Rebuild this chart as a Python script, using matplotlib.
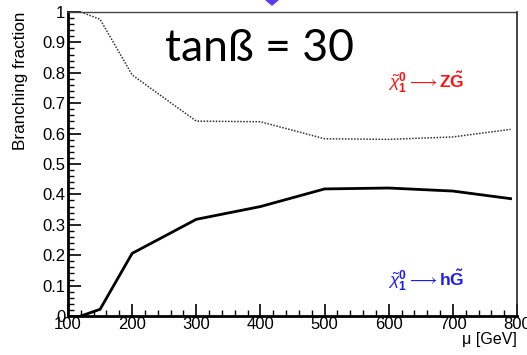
import matplotlib.pyplot as plt
from matplotlib.patches import Polygon
from matplotlib.ticker import MultipleLocator

mu_h = [120, 150, 200, 300, 400, 500, 600, 700, 790]
br_h = [0.0, 0.022, 0.206, 0.318, 0.360, 0.418, 0.421, 0.411, 0.386]

mu_z = [120, 150, 200, 300, 400, 500, 600, 700, 790]
br_z = [1.0, 0.976, 0.793, 0.641, 0.639, 0.583, 0.581, 0.589, 0.614]

plt.rcParams["font.family"] = ["Liberation Sans", "DejaVu Sans"]
plt.rcParams["mathtext.fontset"] = "custom"
plt.rcParams["mathtext.rm"] = "Liberation Sans"
plt.rcParams["mathtext.it"] = "Liberation Sans:italic"
plt.rcParams["mathtext.bf"] = "Liberation Sans:bold"

fig = plt.figure(figsize=(5.27, 3.55), dpi=100)
ax = fig.add_axes([68 / 527, 1 - 316 / 355, 449 / 527, 304 / 355])

ax.plot(mu_z, br_z, color="#333333", linestyle=(0, (1, 1)), linewidth=1.1)
ax.plot(mu_h, br_h, color="black", linewidth=2.0, solid_joinstyle="miter")

ax.set_xlim(100, 800)
ax.set_ylim(0, 1)
ax.xaxis.set_major_locator(MultipleLocator(100))
ax.xaxis.set_minor_locator(MultipleLocator(20))
ax.yaxis.set_major_locator(MultipleLocator(0.1))
ax.yaxis.set_minor_locator(MultipleLocator(0.02))
ax.set_yticks([0, 0.1, 0.2, 0.3, 0.4, 0.5, 0.6, 0.7, 0.8, 0.9, 1.0],
              ["0", "0.1", "0.2", "0.3", "0.4", "0.5", "0.6", "0.7", "0.8", "0.9", "1"])
ax.tick_params(axis="both", which="major", direction="in", length=9, width=1.2,
               labelsize=12, pad=2)
ax.tick_params(axis="both", which="minor", direction="in", length=4.5, width=1.0)
ax.tick_params(axis="x", pad=1)

ax.spines["left"].set_linewidth(2.0)
ax.spines["bottom"].set_linewidth(2.0)
ax.spines["top"].set_linewidth(1.0)
ax.spines["top"].set_color("#444444")
ax.spines["right"].set_linewidth(1.2)
ax.spines["right"].set_color("#222222")

ax.set_ylabel("Branching fraction", fontsize=12.3)
ax.yaxis.set_label_coords(-0.088, 1.0)
ax.yaxis.label.set_horizontalalignment("right")
ax.set_xlabel("μ [GeV]", fontsize=11.5, ha="right", x=1.0, labelpad=0)

ax.text(252, 0.88, "tanß = 30", fontsize=32, family=["Lato", "DejaVu Sans"],
        ha="left", va="center")
ax.text(0.713, 0.77, r"$\tilde{\chi}^{\mathbf{0}}_{\mathbf{1}} \longrightarrow \mathbf{Z\tilde{G}}$",
        transform=ax.transAxes, color="#ff1010", fontsize=12.5, ha="left", va="center")
ax.text(0.713, 0.118, r"$\tilde{\chi}^{\mathbf{0}}_{\mathbf{1}} \longrightarrow \mathbf{h\tilde{G}}$",
        transform=ax.transAxes, color="#1a1aff", fontsize=12.5, ha="left", va="center")

# fragment of a marker cut off by the top edge
diamond = Polygon([(272 / 527, 1 - 5 / 355), (278 / 527, 1.0), (272 / 527, 1 + 5 / 355),
                   (266 / 527, 1.0)], closed=True, transform=fig.transFigure,
                  color="#5a3cf0", clip_on=False)
fig.patches.append(diamond)

fig.savefig("out.png", dpi=100)
